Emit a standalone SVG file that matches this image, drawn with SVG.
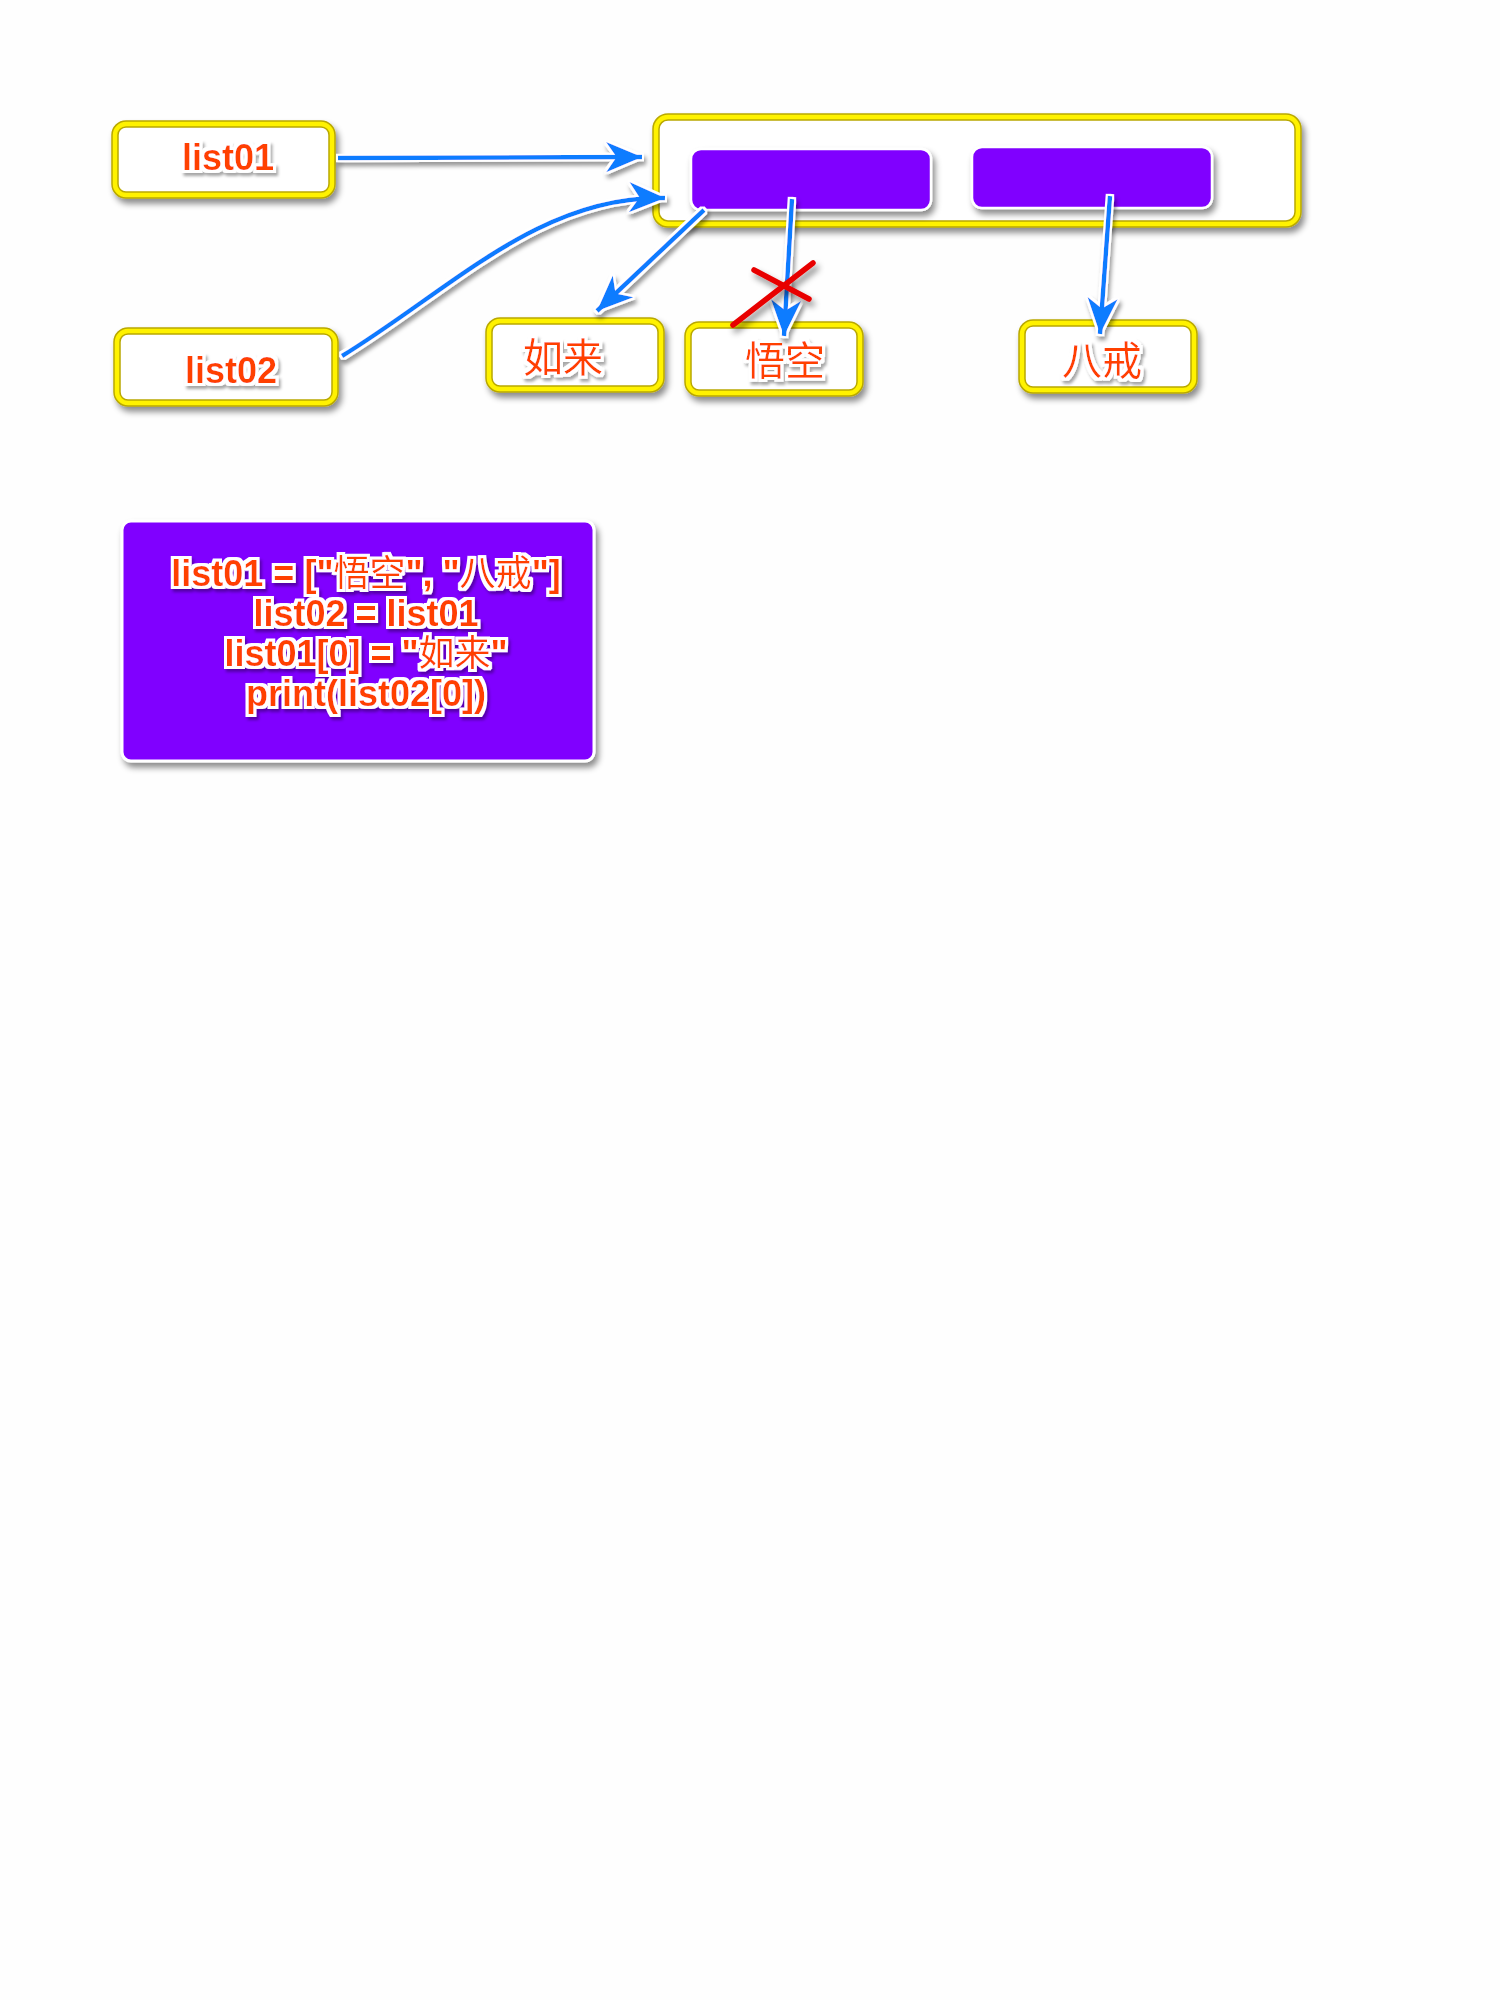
<svg xmlns="http://www.w3.org/2000/svg" width="1500" height="2000" viewBox="0 0 1500 2000">
<style>
.bg{fill:#fefefe}
.yo{fill:#fff;stroke:#b9a800;stroke-width:7.5}
.yi{fill:none;stroke:#fff200;stroke-width:4.5}
.pu{fill:#8000ff;stroke:#fff;stroke-width:2.5}
.lbl{font-family:"Liberation Sans","Noto Sans CJK SC",sans-serif;font-weight:bold;fill:#ff4000;text-anchor:middle}
.cjk{font-family:"Noto Sans CJK SC","Liberation Sans",sans-serif;font-weight:normal;fill:#ff4000;text-anchor:middle}
.cw{font-family:"Noto Sans CJK SC",sans-serif;font-weight:normal}
.ar{fill:none;stroke:#0a7cff;stroke-width:4.5}
.x{stroke:#e80000;stroke-width:5.5;stroke-linecap:round;fill:none}
</style>
<defs>
<filter id="sh" x="-20%" y="-30%" width="140%" height="170%">
<feGaussianBlur in="SourceAlpha" stdDeviation="3"/>
<feOffset dx="3" dy="5" result="o"/>
<feFlood flood-color="#000" flood-opacity="0.45"/>
<feComposite in2="o" operator="in" result="s"/>
<feMerge><feMergeNode in="s"/><feMergeNode in="SourceGraphic"/></feMerge>
</filter>
<filter id="ol" x="-20%" y="-20%" width="140%" height="150%">
<feMorphology in="SourceAlpha" operator="dilate" radius="1.6" result="d"/>
<feFlood flood-color="#fff"/>
<feComposite in2="d" operator="in" result="w"/>
<feGaussianBlur in="d" stdDeviation="2"/>
<feOffset dx="2" dy="4" result="o"/>
<feFlood flood-color="#000" flood-opacity="0.4"/>
<feComposite in2="o" operator="in" result="s"/>
<feMerge><feMergeNode in="s"/><feMergeNode in="w"/><feMergeNode in="SourceGraphic"/></feMerge>
</filter>
<filter id="tol" x="-10%" y="-20%" width="120%" height="150%">
<feMorphology in="SourceAlpha" operator="dilate" radius="2.5" result="d"/>
<feFlood flood-color="#fff"/>
<feComposite in2="d" operator="in" result="w"/>
<feGaussianBlur in="d" stdDeviation="1.5"/>
<feOffset dx="2" dy="3" result="o"/>
<feFlood flood-color="#000" flood-opacity="0.35"/>
<feComposite in2="o" operator="in" result="s"/>
<feMerge><feMergeNode in="s"/><feMergeNode in="w"/><feMergeNode in="SourceGraphic"/></feMerge>
</filter>
<marker id="ah" markerUnits="userSpaceOnUse" markerWidth="44" markerHeight="44" viewBox="-34 -17 38 34" refX="0" refY="0" orient="auto">
<path d="M0,0 L-31,-13 L-22,0 L-31,13 Z" fill="#0a7cff"/>
</marker>
</defs>
<rect class="bg" x="0" y="0" width="1500" height="2000"/>

<g id="container" filter="url(#sh)">
<rect class="yo" x="656" y="117" width="642" height="107" rx="12"/>
<rect class="yi" x="656" y="117" width="642" height="107" rx="12"/>
</g>
<g id="slot0" filter="url(#sh)"><rect class="pu" x="691" y="149" width="240" height="61" rx="10"/></g>
<g id="slot1" filter="url(#sh)"><rect class="pu" x="972" y="147" width="240" height="61" rx="10"/></g>

<g id="list01">
<g filter="url(#sh)"><rect class="yo" x="115" y="124" width="217" height="71" rx="11"/><rect class="yi" x="115" y="124" width="217" height="71" rx="11"/></g>
<text class="lbl" x="228" y="170" font-size="36" filter="url(#tol)">list01</text>
</g>
<g id="list02">
<g filter="url(#sh)"><rect class="yo" x="117" y="331" width="218" height="72" rx="11"/><rect class="yi" x="117" y="331" width="218" height="72" rx="11"/></g>
<text class="lbl" x="231" y="383" font-size="36" filter="url(#tol)">list02</text>
</g>
<g id="rulai">
<g filter="url(#sh)"><rect class="yo" x="489" y="321" width="172" height="68" rx="11"/><rect class="yi" x="489" y="321" width="172" height="68" rx="11"/></g>
<text class="cjk" x="563" y="372" font-size="40" filter="url(#tol)">如来</text>
</g>
<g id="wukong">
<g filter="url(#sh)"><rect class="yo" x="688" y="325" width="172" height="68" rx="11"/><rect class="yi" x="688" y="325" width="172" height="68" rx="11"/></g>
<text class="cjk" x="785" y="375" font-size="40" filter="url(#tol)">悟空</text>
</g>
<g id="bajie">
<g filter="url(#sh)"><rect class="yo" x="1022" y="323" width="172" height="67" rx="11"/><rect class="yi" x="1022" y="323" width="172" height="67" rx="11"/></g>
<text class="cjk" x="1102" y="375" font-size="40" filter="url(#tol)">八戒</text>
</g>

<g id="connectors" filter="url(#ol)">
<path class="ar" d="M338,158 L642,157" marker-end="url(#ah)"/>
<path class="ar" d="M342,356 C450,290 540,195 665,198" marker-end="url(#ah)"/>
<path class="ar" d="M704,210 L597,311" marker-end="url(#ah)"/>
<path class="ar" d="M792,199 L784,336" marker-end="url(#ah)"/>
<path class="ar" d="M1110,196 L1100,334" marker-end="url(#ah)"/>
</g>
<g id="cross" filter="url(#sh)">
<path class="x" d="M733,325 L813,263 M754,270 L809,299"/>
</g>

<g id="code">
<g filter="url(#sh)"><rect x="122" y="521" width="472" height="240" rx="9" fill="#8000ff" stroke="#fff" stroke-width="3"/></g>
<text class="lbl" x="366" y="586" font-size="36" filter="url(#tol)"><tspan x="366" y="586">list01 = ["<tspan class="cw">悟空</tspan>", "<tspan class="cw">八戒</tspan>"]</tspan><tspan x="366" y="626">list02 = list01</tspan><tspan x="366" y="666">list01[0] = "<tspan class="cw">如来</tspan>"</tspan><tspan x="366" y="706">print(list02[0])</tspan></text>
</g>
</svg>
